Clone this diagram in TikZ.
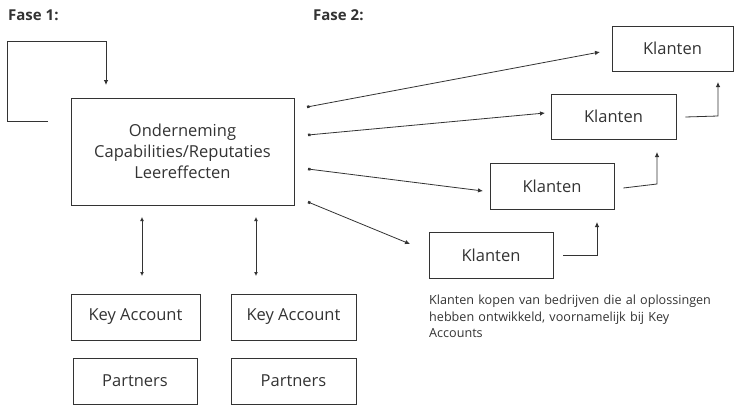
\documentclass[tikz,border=0pt]{standalone}
\usepackage{fontspec}
\setmainfont{Open Sans}
\usetikzlibrary{arrows.meta}
\definecolor{ink}{HTML}{333333}
\tikzset{
  box/.style={draw=ink, line width=0.8pt, inner sep=0pt, text=ink, font=\fontsize{16.5}{20}\selectfont},
  conn/.style={draw=ink, line width=0.8pt, -{Latex[length=5pt,width=4.5pt]}},
  dconn/.style={draw=ink, line width=0.8pt, {Latex[length=4pt,width=4pt]}-{Latex[length=4pt,width=4pt]}},
  fan/.style={draw=ink, line width=0.8pt, {Square[length=2.5pt,width=2.5pt]}-{Latex[length=5pt,width=4.5pt]}},
  title/.style={text=ink, font=\bfseries\fontsize{15}{18}\selectfont, inner sep=0pt, anchor=west}
}
\begin{document}
\begin{tikzpicture}[x=1pt,y=-1pt]
\useasboundingbox (0,0) rectangle (734,407);
\node[title] (f1) at (8,15) {Fase 1:};
\node[title] (f2) at (313,15) {Fase 2:};

\node[box, minimum width=223pt, minimum height=107pt, align=center,
      font=\fontsize{16.5}{21}\selectfont] (main) at (182.5,151.5)
  {Onderneming\\Capabilities/Reputaties\\Leereffecten};

\node[box, minimum width=121pt, minimum height=45pt] (k1) at (672.5,48.5) {Klanten};
\node[box, minimum width=125pt, minimum height=45pt] (k2) at (613.5,116.5) {Klanten};
\node[box, minimum width=124pt, minimum height=46pt] (k3) at (552,186) {Klanten};
\node[box, minimum width=124pt, minimum height=46pt] (k4) at (491,255) {Klanten};

\node[box, minimum width=129pt, minimum height=46pt] (ka1) at (135.5,317) {Key Account};
\node[box, minimum width=125pt, minimum height=46pt] (ka2) at (293.5,317) {Key Account};
\node[box, minimum width=124pt, minimum height=46pt] (p1) at (135,381) {Partners};
\node[box, minimum width=125pt, minimum height=46pt] (p2) at (293.5,381) {Partners};

\node[text=ink, font=\fontsize{12.6}{16.5}\selectfont, align=left, anchor=north west, inner sep=0pt, text width=300pt] (note) at (429,295)
  {Klanten kopen van bedrijven die al oplossingen\\hebben ontwikkeld, voornamelijk bij Key\\Accounts};

% loop
\coordinate (l0) at (48,121);
\coordinate (l1) at (106,85);
\draw[conn] (l0) -- (7,121) -- (7,41) -- (106,41) -- (l1);

% fan
\coordinate (s1) at (307,107);
\coordinate (s2) at (308,135);
\coordinate (s3) at (308,169);
\coordinate (s4) at (308,202);
\coordinate (e1) at (600,52);
\coordinate (e2) at (545,113);
\coordinate (e3) at (483,191);
\coordinate (e4) at (410,244);
\draw[fan] (s1) -- (e1);
\draw[fan] (s2) -- (e2);
\draw[fan] (s3) -- (e3);
\draw[fan] (s4) -- (e4);

% steps
\coordinate (t4) at (597,222);
\coordinate (t3) at (657,152);
\coordinate (t2) at (718,82);
\draw[conn] ([xshift=10pt]k4.east) -- (597,255) -- (t4);
\draw[conn] ([xshift=9pt,yshift=-2pt]k3.east) -- (657,184) -- (t3);
\draw[conn] ([xshift=9pt,yshift=-0.5pt]k2.east) -- (718,116) -- (t2);

% double arrows
\coordinate (d1a) at (142,217);
\coordinate (d1b) at (142,276);
\coordinate (d2a) at (256,217);
\coordinate (d2b) at (256,276);
\draw[dconn] (d1a) -- (d1b);
\draw[dconn] (d2a) -- (d2b);
\end{tikzpicture}
\end{document}
